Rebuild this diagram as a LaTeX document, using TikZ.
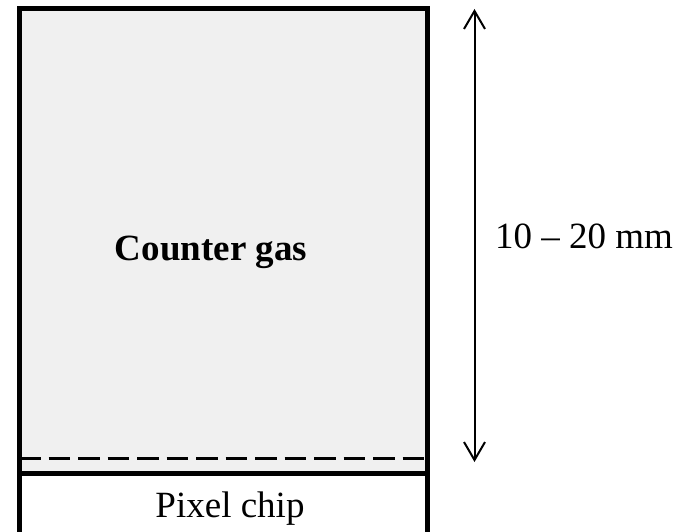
\documentclass[tikz,border=0pt]{standalone}
\usepackage{fontspec}
\setmainfont{Liberation Serif}
\usetikzlibrary{arrows.meta}
\definecolor{gasgray}{HTML}{F0F0F0}
\tikzset{
  frame/.style={line width=5pt, draw=black},
  lbl/.style={font=\fontsize{37}{44}\selectfont, inner sep=0pt, anchor=base},
  dimarrow/.style={line width=2pt, {Straight Barb[length=18pt,width=21pt,line width=2pt]}-{Straight Barb[length=18pt,width=21pt,line width=2pt]}}
}
\begin{document}
\begin{tikzpicture}[x=1pt,y=-1pt]
\useasboundingbox (0,0) rectangle (686,532);
% gas region
\fill[gasgray] (19,8.5) rectangle (427,473.5);
% dashed line
\draw[line width=3pt, dash pattern=on 21.5pt off 8pt] (19,458) -- (427,458);
% frames
\draw[frame] (19,473.5) -- (19,8.5) -- (427,8.5) -- (427,473.5) -- cycle;
\draw[frame] (19,473.5) -- (19,534.5) -- (427,534.5) -- (427,473.5);
% labels
\node[lbl, font=\fontsize{37}{44}\selectfont\bfseries] (gas) at (211,261) {Counter gas};
\node[lbl, anchor=base west] (dim) at (495,248) {10 – 20 mm};
\node[lbl] (chip) at (230,517) {Pixel chip};
% dimension arrow
\coordinate (atop) at (474.5,9);
\coordinate (abot) at (474.5,462);
\draw[dimarrow] (atop) -- (abot);
\end{tikzpicture}
\end{document}
